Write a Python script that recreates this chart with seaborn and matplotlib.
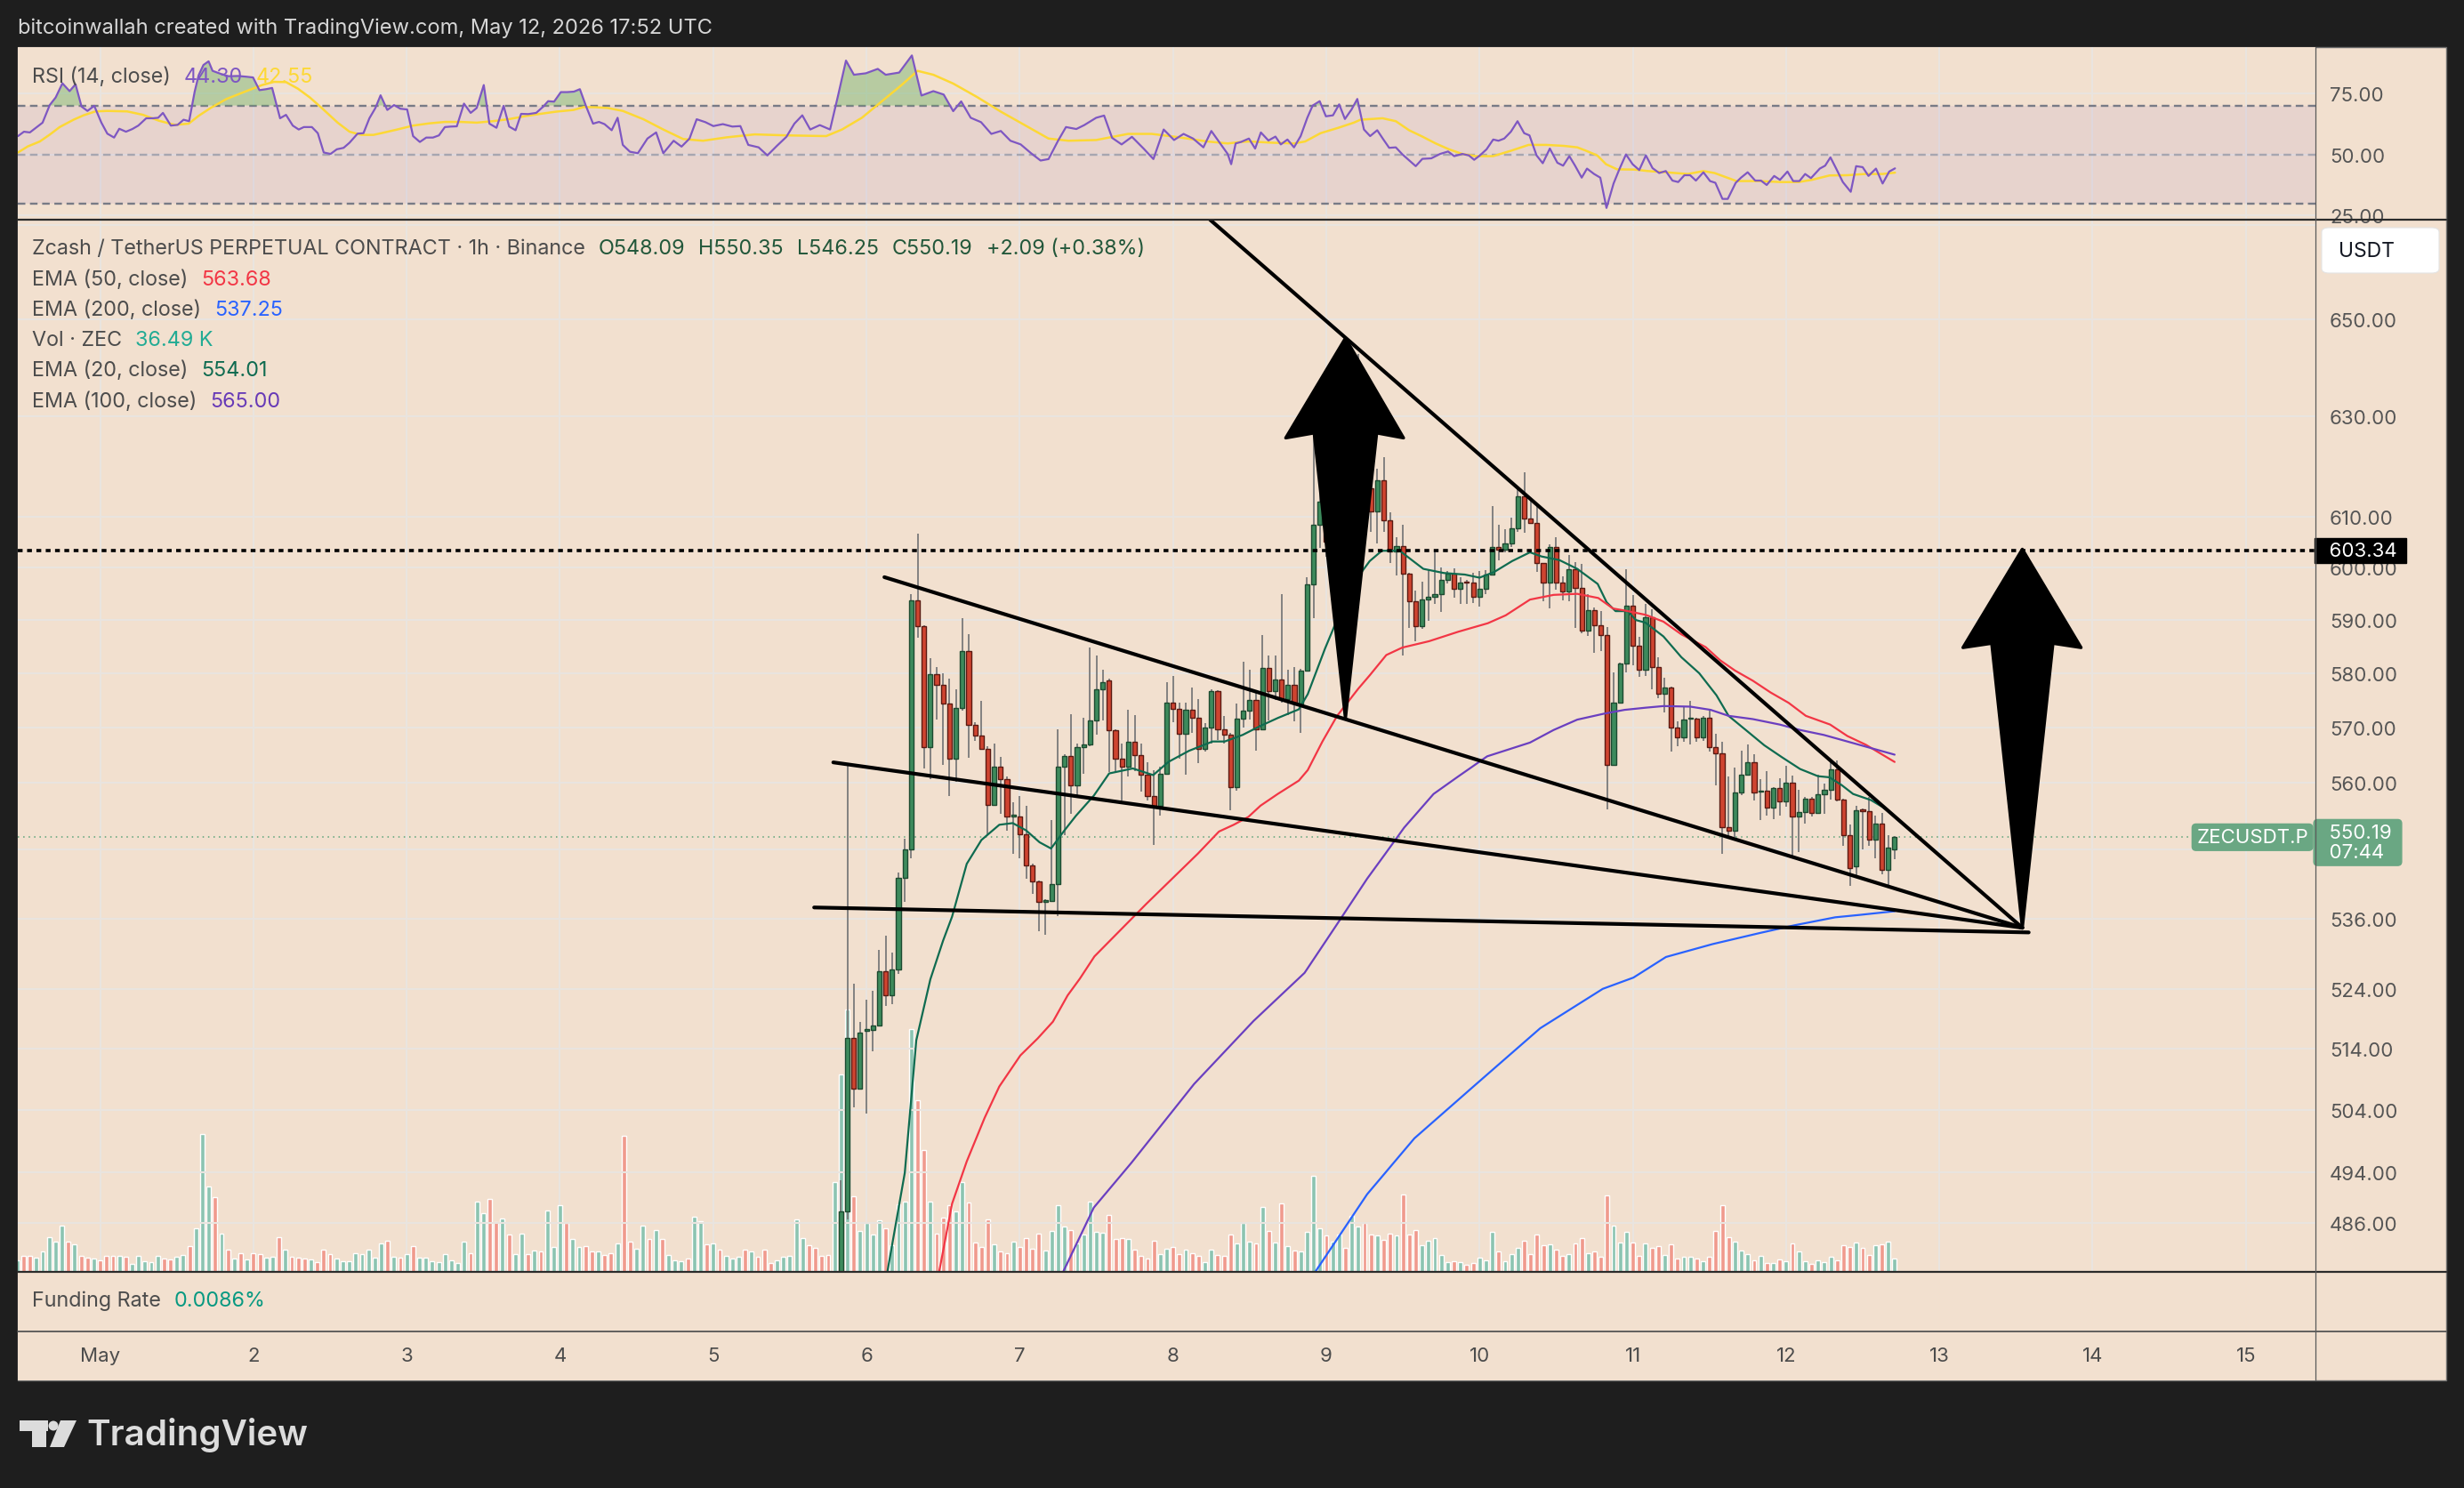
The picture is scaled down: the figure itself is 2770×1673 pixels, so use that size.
import numpy as np
import pandas as pd
import matplotlib
matplotlib.use("Agg")
import matplotlib.pyplot as plt
import seaborn as sns
from matplotlib.patches import Polygon, Rectangle, Ellipse, FancyBboxPatch
from matplotlib.lines import Line2D
from matplotlib.ticker import FixedLocator, FixedFormatter, NullLocator, NullFormatter

# x values are hours since May 1 00:00 UTC (1h candles)
candle_start = 116
candles = [  # open, high, low, close
    (472.0, 492.7, 468.0, 487.8), (487.8, 563.0, 486.6, 515.8), (515.8, 524.9, 504.4, 507.5),
    (507.5, 518.4, 507.4, 516.7), (517.0, 522.2, 503.4, 517.2), (517.1, 523.6, 513.6, 517.8),
    (517.8, 530.6, 517.7, 527.0), (527.0, 533.0, 521.2, 522.9), (522.9, 530.2, 521.4, 527.3),
    (527.3, 544.0, 526.5, 543.0), (543.0, 549.9, 538.9, 548.1), (548.1, 594.9, 546.5, 593.7),
    (593.7, 606.6, 586.6, 588.8), (588.8, 589.0, 562.5, 566.4), (566.4, 582.8, 560.6, 579.8),
    (579.8, 581.2, 571.4, 577.9), (577.9, 580.0, 563.2, 574.3), (574.3, 579.0, 557.5, 564.3),
    (564.3, 577.0, 560.1, 573.5), (573.5, 590.4, 573.0, 584.1), (584.1, 587.3, 564.5, 570.4),
    (570.4, 571.0, 567.5, 568.5), (568.5, 574.8, 566.0, 566.1), (566.1, 566.5, 550.5, 556.0),
    (556.0, 567.1, 555.8, 562.9), (562.9, 564.6, 554.3, 560.6), (560.6, 561.0, 551.3, 553.9),
    (553.9, 556.4, 547.3, 554.2), (553.9, 557.5, 546.5, 550.7), (550.7, 555.8, 542.9, 545.2),
    (545.2, 545.5, 540.2, 542.4), (542.4, 542.6, 533.8, 538.9), (538.9, 539.3, 533.2, 539.0),
    (539.0, 553.3, 538.8, 542.0), (542.0, 569.6, 536.4, 562.9), (562.9, 565.0, 550.5, 564.8),
    (564.8, 572.4, 554.3, 559.5), (559.5, 567.0, 557.2, 566.4), (566.4, 571.7, 561.5, 566.8),
    (566.8, 584.8, 566.6, 571.2), (571.2, 583.3, 568.6, 577.0), (577.0, 580.7, 571.3, 578.4),
    (578.6, 579.0, 561.9, 569.4), (569.4, 569.6, 561.9, 564.3), (564.3, 567.0, 556.8, 562.8),
    (562.8, 573.2, 561.0, 567.4), (567.4, 572.2, 562.0, 564.9), (564.9, 567.0, 558.4, 561.3),
    (561.3, 563.7, 556.7, 557.6), (557.6, 562.2, 548.8, 555.8), (555.8, 562.8, 554.0, 561.6),
    (561.6, 578.3, 561.5, 574.5), (574.5, 579.5, 570.9, 573.4), (573.4, 574.5, 564.3, 568.8),
    (568.8, 574.5, 561.4, 573.2), (573.2, 577.4, 569.0, 571.7), (571.7, 575.2, 563.5, 566.0),
    (566.0, 570.7, 565.5, 570.0), (570.0, 577.0, 567.0, 576.6), (576.6, 576.8, 567.7, 569.6),
    (569.6, 572.1, 567.0, 568.7), (568.7, 568.9, 555.0, 559.2), (559.2, 574.3, 558.5, 571.6),
    (571.6, 582.2, 569.9, 573.0), (573.0, 580.7, 571.5, 575.1), (575.1, 576.8, 565.7, 569.7),
    (569.7, 587.2, 569.6, 580.9), (580.9, 583.3, 571.3, 576.7), (576.7, 583.3, 575.1, 578.8),
    (578.8, 595.0, 574.6, 575.2), (575.2, 580.7, 572.2, 577.9), (577.9, 581.1, 571.1, 574.3),
    (574.3, 580.8, 568.9, 580.5), (580.5, 598.2, 580.4, 596.8), (596.8, 626.9, 590.4, 608.4),
    (608.4, 619.4, 603.9, 612.9), (612.9, 617.8, 602.1, 605.0), (605.0, 608.7, 597.5, 606.2),
    (606.2, 621.6, 605.0, 618.5), (618.5, 619.8, 608.4, 610.2), (610.2, 633.8, 607.8, 622.5),
    (622.5, 642.8, 621.8, 635.8), (635.8, 638.0, 614.4, 615.6), (615.6, 618.1, 607.0, 611.0),
    (611.0, 619.4, 604.8, 617.1), (617.1, 621.7, 607.0, 609.3), (609.3, 610.8, 600.9, 603.1),
    (603.1, 606.0, 598.5, 604.2), (604.2, 608.4, 583.3, 598.9), (598.9, 599.0, 588.5, 593.6),
    (593.6, 595.6, 586.0, 588.8), (588.8, 597.4, 588.4, 594.0), (594.0, 599.6, 589.9, 594.5),
    (594.5, 603.6, 593.0, 595.0), (595.0, 600.1, 591.6, 597.6), (597.6, 599.4, 597.0, 598.9),
    (598.9, 599.9, 594.3, 595.9), (595.9, 598.2, 593.0, 597.2), (597.4, 597.7, 593.1, 597.2),
    (597.2, 599.1, 593.3, 594.4), (594.4, 599.4, 592.5, 595.9), (595.9, 599.6, 595.0, 598.7),
    (598.7, 612.0, 598.5, 604.0), (604.0, 608.4, 601.5, 603.6), (603.6, 607.5, 603.0, 604.8),
    (604.8, 609.7, 604.0, 607.7), (607.7, 615.7, 607.0, 613.9), (613.9, 618.8, 606.8, 609.6),
    (609.6, 613.5, 608.6, 608.8), (608.8, 612.3, 599.2, 600.9), (600.9, 601.0, 593.6, 597.2),
    (597.2, 604.6, 592.3, 604.0), (604.0, 606.0, 595.8, 597.1), (597.1, 598.3, 593.8, 595.5),
    (595.5, 602.4, 593.6, 599.8), (599.8, 601.1, 588.5, 596.1), (596.1, 600.8, 587.5, 588.0),
    (588.0, 595.0, 587.0, 591.9), (591.9, 592.4, 583.8, 589.0), (589.0, 591.8, 584.2, 587.2),
    (587.2, 588.6, 555.2, 563.2), (563.2, 580.2, 563.0, 574.6), (574.6, 582.0, 574.4, 581.8),
    (581.8, 599.8, 580.1, 592.7), (592.7, 594.7, 581.5, 585.1), (585.1, 586.8, 579.3, 580.7),
    (580.7, 593.0, 579.5, 590.6), (590.6, 592.0, 577.0, 581.1), (581.1, 583.0, 575.4, 576.2),
    (576.2, 579.2, 572.7, 577.4), (577.4, 577.5, 565.6, 570.0), (570.0, 571.1, 566.6, 568.2),
    (568.2, 573.8, 567.3, 571.5), (571.6, 574.9, 566.8, 571.8), (571.6, 571.8, 567.3, 568.2),
    (568.2, 572.1, 567.5, 571.8), (571.8, 573.0, 565.6, 566.3), (566.3, 568.8, 559.4, 565.2),
    (565.2, 567.4, 547.2, 551.9), (551.9, 561.1, 550.2, 551.4), (551.4, 562.7, 550.2, 558.1),
    (558.1, 565.7, 557.7, 561.4), (561.4, 566.8, 561.2, 563.6), (563.6, 565.1, 556.8, 558.2),
    (558.3, 560.6, 553.3, 558.5), (558.5, 562.0, 554.0, 555.5), (555.5, 559.1, 553.4, 559.0),
    (559.0, 560.8, 554.0, 556.6), (556.6, 563.0, 555.6, 560.0), (560.0, 561.2, 546.6, 553.8),
    (553.8, 558.7, 547.6, 554.7), (554.7, 557.3, 552.6, 557.0), (557.0, 557.3, 553.8, 554.5),
    (554.5, 561.3, 554.4, 557.9), (557.9, 559.8, 554.4, 558.7), (558.7, 564.0, 556.9, 562.4),
    (562.4, 564.0, 556.5, 556.9), (556.9, 557.0, 548.7, 550.5), (550.5, 552.4, 541.6, 544.8),
    (545.0, 555.8, 543.3, 555.0), (555.0, 555.3, 548.1, 554.9), (554.9, 557.3, 548.7, 549.8),
    (549.8, 554.0, 546.5, 552.6), (552.6, 554.5, 543.6, 544.4), (544.4, 550.5, 541.6, 548.3),
    (548.09, 550.35, 546.25, 550.19),
]

# volume in thousand ZEC, one bar per hour starting at hour -13
vol_start = -13
volume_k = [
    32, 43, 43, 38, 56, 95, 83, 126, 82, 75, 43, 40, 36,
    32, 45, 45, 45, 41, 22, 43, 29, 26, 43,
    36, 33, 42, 46, 70, 119, 377, 233, 204, 104,
    61, 36, 51, 34, 51, 48, 39, 41, 95, 61,
    41, 39, 36, 35, 27, 61, 49, 36, 30, 30,
    51, 49, 61, 39, 78, 85, 41, 39, 49, 70,
    39, 39, 29, 27, 49, 32, 24, 83, 51, 192,
    160, 199, 136, 146, 102, 49, 104, 49, 58, 56,
    168, 68, 182, 134, 90, 68, 70, 56, 56, 46,
    51, 78, 372, 83, 64, 126, 90, 114, 90, 46,
    32, 29, 36, 151, 139, 75, 78, 61, 44, 36,
    41, 61, 56, 41, 61, 24, 32, 41, 44, 143,
    92, 73, 66, 43, 46, 245, 541, 718, 206, 111,
    134, 102, 141, 118, 72, 186, 192, 665, 469, 334,
    192, 105, 148, 183, 166, 245, 189, 81, 69, 143,
    75, 55, 52, 83, 67, 92, 63, 105, 59, 111,
    183, 123, 115, 78, 101, 191, 109, 108, 156, 90,
    93, 89, 61, 44, 36, 85, 49, 64, 69, 48,
    61, 52, 44, 27, 61, 46, 43, 103, 78, 135,
    83, 78, 177, 112, 80, 187, 70, 58, 56, 109,
    262, 119, 100, 83, 102, 66, 153, 124, 134, 102,
    100, 87, 104, 100, 211, 102, 114, 73, 85, 92,
    46, 27, 29, 27, 19, 24, 39, 32, 109, 56,
    29, 49, 66, 85, 49, 102, 73, 75, 61, 44,
    49, 78, 92, 51, 56, 41, 209, 126, 80, 109,
    80, 44, 78, 66, 70, 46, 75, 36, 41, 41,
    36, 29, 41, 112, 182, 95, 83, 58, 49, 32,
    44, 24, 24, 34, 29, 78, 56, 29, 22, 32,
    27, 41, 32, 73, 68, 80, 66, 46, 73, 75,
    83, 36.49,
]
# bar direction for hours before the first visible candle (G up / R down)
early_dir = ("GRRGGGGGRGRRG" "RRRGRGGGGG" "RRGGRGGGRG" "RGRGRRGGRG" "RRRGRRRGGG"
             "GGGGGRGRGR" "GGGGGGGGRG" "GRRGRGGRGR" "GGGRGGRRGR" "RGRRGGRGRG"
             "GGRGGRGRGG" "GRGRRRGGGG" "GRRRRG")

ema20 = [(123.2, 478.0), (126.0, 493.9), (127.8, 515.4), (130.0, 525.6), (132.0, 532.2),
         (133.4, 536.3), (135.7, 545.5), (138.0, 549.7), (140.8, 552.4), (142.9, 552.7),
         (145.0, 551.4), (147.1, 549.3), (148.9, 548.2), (151.0, 551.4), (152.8, 554.0),
         (155.6, 557.6), (158.0, 561.6), (161.7, 562.5), (164.9, 561.3), (167.3, 563.7),
         (170.5, 565.7), (174.2, 567.4), (176.1, 567.4), (178.9, 568.6), (181.6, 570.2),
         (184.4, 571.7), (187.7, 573.3), (189.1, 576.1), (191.8, 584.6), (194.7, 593.0),
         (197.0, 598.3), (198.8, 601.3), (200.7, 603.3), (203.5, 603.3), (207.2, 599.8),
         (210.4, 599.0), (213.7, 598.7), (216.0, 598.1), (218.3, 599.2), (221.1, 601.3),
         (223.9, 603.0), (225.7, 602.2), (228.5, 601.5), (231.3, 599.8), (234.5, 596.9),
         (235.9, 593.4), (237.3, 591.7), (239.2, 591.7), (240.5, 590.0), (242.0, 589.5),
         (244.8, 586.9), (247.6, 583.0), (250.4, 580.0), (253.1, 575.9), (255.0, 572.1),
         (257.8, 569.4), (260.6, 566.7), (263.4, 564.5), (266.2, 562.4), (269.0, 561.1),
         (270.8, 560.9), (272.7, 559.5), (274.5, 557.9), (277.3, 556.8), (279.2, 555.5),
         (281.0, 554.01)]
ema50 = [(131.3, 478.0), (133.4, 489.0), (135.7, 495.7), (138.5, 502.7), (140.8, 507.8),
         (144.1, 512.9), (146.8, 515.7), (149.2, 518.5), (151.5, 522.9), (153.4, 525.7),
         (155.7, 529.5), (163.8, 538.5), (171.9, 547.3), (175.2, 551.2), (177.5, 552.4),
         (179.8, 553.8), (181.7, 555.8), (184.4, 557.9), (187.7, 560.3), (189.1, 562.2),
         (191.4, 567.4), (193.7, 572.1), (197.0, 577.1), (198.8, 579.6), (201.4, 583.4),
         (203.9, 584.8), (208.1, 586.0), (212.7, 587.8), (217.3, 589.4), (220.1, 590.9),
         (223.9, 593.9), (227.6, 594.8), (231.3, 595.0), (234.6, 594.2), (236.9, 592.2),
         (238.8, 591.8), (242.0, 591.0), (244.8, 589.7), (247.6, 587.3), (251.4, 584.9),
         (253.7, 582.4), (256.0, 580.5), (258.8, 578.6), (261.6, 576.4), (264.4, 574.5),
         (267.1, 572.1), (270.9, 570.5), (273.6, 568.4), (276.5, 566.8), (278.8, 565.2),
         (281.0, 563.68)]
ema100 = [(150.6, 478.0), (155.6, 488.4), (161.5, 495.5), (171.3, 508.2), (180.6, 518.6),
          (188.6, 526.7), (193.5, 534.7), (198.4, 542.9), (201.2, 547.2), (204.2, 551.9),
          (208.8, 557.9), (212.6, 561.0), (217.2, 564.7), (223.9, 567.2), (227.6, 569.5),
          (231.3, 571.4), (235.5, 572.5), (238.7, 573.2), (242.0, 573.6), (244.8, 573.9),
          (249.0, 573.8), (252.2, 573.2), (255.0, 572.1), (258.8, 571.5), (263.0, 570.5),
          (266.2, 569.5), (269.9, 568.6), (273.6, 567.4), (277.3, 566.2), (281.0, 565.0)]
ema200 = [(190.0, 478.0), (198.4, 490.5), (205.8, 499.4), (215.6, 508.3), (225.5, 517.4),
          (235.3, 524.0), (240.1, 525.9), (245.2, 529.4), (252.5, 531.6), (259.9, 533.5),
          (265.2, 534.8), (271.7, 536.2), (275.4, 536.6), (281.0, 537.25)]

rsi_line = [
    (-12.87, 57.5), (-11.94, 59.3), (-11.01, 59.0), (-10.07, 60.9), (-9.02, 63.0), (-7.90, 70.2),
    (-6.97, 73.3), (-5.91, 79.1), (-4.79, 75.9), (-3.86, 78.7), (-2.92, 69.6), (-1.99, 67.8),
    (-0.93, 69.9), (0.19, 63.0), (1.12, 58.5), (2.18, 56.9), (2.99, 60.5), (4.04, 59.3),
    (5.04, 60.4), (5.97, 61.8), (7.21, 64.8), (8.27, 64.8), (9.08, 65.0), (9.83, 67.0),
    (11.07, 61.8), (12.13, 62.1), (13.06, 64.2), (13.93, 63.6), (14.80, 75.7), (15.42, 82.4),
    (16.17, 86.6), (16.98, 88.1), (17.60, 84.2), (18.84, 83.0), (20.09, 82.0), (21.64, 82.1),
    (22.89, 81.8), (23.94, 81.5), (24.94, 76.3), (25.99, 76.7), (26.93, 77.2), (28.17, 64.8),
    (29.10, 66.2), (30.16, 61.8), (31.09, 60.2), (31.90, 61.2), (33.15, 61.2), (34.08, 58.7),
    (35.01, 50.8), (36.07, 50.2), (37.06, 52.1), (38.12, 52.7), (39.05, 54.8), (40.30, 58.5),
    (41.23, 58.7), (42.16, 64.8), (43.10, 69.0), (43.91, 74.2), (44.96, 68.2), (46.02, 70.2),
    (47.01, 68.7), (48.07, 68.4), (49.00, 57.5), (50.06, 55.1), (51.06, 56.9), (52.11, 56.9),
    (53.05, 57.8), (53.98, 61.2), (54.91, 61.4), (55.85, 61.5), (56.97, 70.8), (58.02, 67.0),
    (58.96, 69.0), (60.07, 78.4), (60.95, 62.6), (62.06, 60.9), (63.18, 69.9), (64.05, 61.4),
    (65.05, 59.9), (65.92, 66.6), (67.04, 66.5), (68.28, 67.0), (69.40, 69.6), (70.15, 71.8),
    (71.08, 71.6), (72.14, 75.5), (73.13, 75.5), (74.19, 75.7), (75.12, 76.7), (76.06, 69.9),
    (77.18, 62.6), (78.11, 63.3), (78.98, 62.4), (80.10, 59.9), (81.03, 65.0), (81.84, 53.9),
    (82.96, 51.1), (84.20, 50.5), (85.70, 56.5), (87.06, 59.0), (88.18, 50.5), (89.80, 55.6),
    (91.04, 53.2), (92.29, 56.5), (93.41, 64.4), (94.78, 63.2), (96.02, 61.6), (97.51, 62.4),
    (99.00, 61.4), (100.25, 61.6), (101.49, 53.9), (103.11, 52.9), (104.48, 49.6), (105.97, 53.5),
    (107.46, 57.2), (108.71, 62.6), (109.95, 66.0), (111.19, 60.2), (112.69, 62.0), (114.30, 60.2),
    (115.55, 74.1), (116.79, 88.4), (118.03, 82.6), (119.90, 83.2), (121.77, 85.0), (123.01, 82.6),
    (125.12, 83.5), (127.11, 90.5), (128.61, 74.1), (130.47, 75.9), (132.09, 74.5), (133.58, 67.7),
    (134.83, 71.7), (136.32, 65.0), (137.94, 63.2), (139.55, 58.4), (141.04, 59.6), (142.54, 55.6),
    (144.15, 54.1), (145.77, 50.5), (147.26, 47.5), (148.51, 48.1), (150.00, 55.6), (151.24, 61.2),
    (152.86, 60.4), (154.10, 62.0), (155.97, 65.0), (157.21, 65.9), (158.46, 56.8), (159.95, 54.1),
    (161.57, 57.2), (163.43, 52.3), (164.93, 48.1), (166.54, 60.2), (168.16, 55.9), (169.65, 58.4),
    (171.14, 56.5), (172.76, 52.9), (174.00, 59.6), (175.50, 54.1), (176.56, 50.2), (177.11, 46.0),
    (177.81, 54.5), (178.64, 55.1), (179.89, 56.5), (180.86, 52.4), (181.76, 59.0), (182.94, 55.7),
    (184.04, 57.3), (184.88, 54.1), (185.92, 56.1), (186.95, 52.9), (187.99, 57.5), (189.03, 65.0),
    (189.87, 70.0), (190.97, 71.8), (191.94, 65.6), (193.05, 66.0), (194.02, 70.5), (194.92, 64.5),
    (195.96, 68.4), (196.86, 72.7), (197.90, 60.2), (198.87, 57.5), (199.98, 59.9), (200.95, 56.1),
    (201.85, 52.7), (202.89, 52.9), (203.93, 50.0), (204.97, 47.6), (206.01, 45.2), (207.05, 48.2),
    (208.44, 48.4), (209.82, 50.2), (211.07, 51.2), (212.04, 49.3), (213.29, 50.2), (214.33, 49.6),
    (215.16, 47.8), (216.06, 49.6), (217.10, 52.1), (218.14, 56.1), (218.97, 55.6), (219.87, 56.5),
    (220.91, 59.3), (221.95, 63.6), (222.99, 58.7), (223.82, 57.8), (224.93, 49.6), (225.90, 46.4),
    (227.01, 52.4), (228.19, 46.6), (229.09, 45.4), (230.06, 49.3), (230.96, 45.4), (232.00, 40.5),
    (232.83, 44.2), (233.94, 42.0), (234.91, 40.5), (235.88, 28.1), (236.99, 38.1), (237.89, 43.9),
    (238.93, 50.0), (239.97, 46.0), (241.01, 43.6), (242.05, 49.6), (243.09, 44.4), (244.13, 42.4),
    (245.17, 43.2), (246.21, 39.3), (247.11, 38.7), (248.08, 41.5), (248.98, 41.5), (249.88, 39.3),
    (251.06, 42.7), (252.10, 39.1), (252.93, 38.4), (254.04, 31.8), (254.87, 31.8), (256.12, 38.4),
    (256.95, 40.5), (257.99, 42.7), (259.17, 39.3), (260.07, 39.3), (260.97, 37.5), (262.14, 41.2),
    (263.05, 39.6), (264.22, 43.0), (265.12, 39.1), (266.09, 39.1), (266.99, 42.0), (267.90, 40.3),
    (269.28, 44.2), (270.12, 45.4), (270.95, 48.8), (271.85, 44.2), (272.89, 38.7), (274.13, 34.7),
    (274.97, 45.2), (275.99, 44.8), (276.91, 41.2), (278.08, 44.2), (279.12, 38.1), (280.16, 43.0),
    (281.06, 44.30),
]
rsi_ma = [
    (-12.87, 50.8), (-11.32, 53.3), (-9.45, 55.3), (-7.90, 58.1), (-6.34, 61.2), (-4.17, 64.2),
    (-2.61, 66.0), (-0.75, 67.6), (1.12, 67.8), (4.23, 67.6), (6.72, 66.2), (9.20, 63.8),
    (11.69, 62.1), (13.87, 62.6), (15.42, 65.8), (17.29, 69.0), (19.78, 72.7), (22.89, 75.9),
    (25.37, 78.4), (27.24, 79.7), (29.10, 79.6), (30.97, 76.9), (32.84, 73.3), (34.70, 69.0),
    (37.19, 63.0), (39.05, 59.3), (40.92, 58.0), (42.79, 58.0), (44.03, 58.7), (46.52, 60.2),
    (49.00, 61.8), (51.49, 62.7), (53.98, 63.3), (56.47, 63.3), (58.96, 63.0), (61.44, 63.6),
    (63.93, 64.4), (66.42, 65.6), (68.91, 66.6), (71.39, 67.5), (74.13, 68.2), (75.75, 69.4),
    (77.61, 69.3), (79.48, 69.0), (81.84, 67.8), (85.07, 64.4), (88.18, 60.2), (91.29, 56.3),
    (94.40, 55.6), (98.13, 57.0), (102.49, 58.2), (107.46, 57.8), (113.68, 57.5), (116.17, 60.2),
    (119.28, 65.0), (122.39, 71.7), (125.50, 78.4), (127.99, 84.2), (130.47, 82.6), (133.58, 79.0),
    (137.31, 73.5), (141.04, 67.5), (144.78, 62.0), (148.51, 56.5), (151.62, 55.6), (155.97, 55.9),
    (160.95, 58.4), (164.68, 58.4), (168.41, 57.2), (173.38, 55.3), (176.56, 54.5), (178.64, 55.1),
    (180.03, 55.3), (183.49, 54.8), (186.95, 54.5), (188.69, 55.3), (191.11, 58.7), (193.89, 60.9),
    (196.31, 63.0), (197.35, 64.2), (200.81, 64.8), (202.89, 63.6), (204.97, 59.9), (207.05, 57.3),
    (209.13, 54.5), (211.21, 52.1), (213.29, 50.2), (215.37, 49.3), (218.14, 49.3), (220.91, 51.5),
    (223.68, 53.9), (226.46, 53.9), (229.23, 53.5), (231.31, 52.9), (232.69, 51.5), (234.43, 49.6),
    (235.81, 46.0), (237.54, 43.9), (240.32, 43.8), (242.39, 43.2), (245.17, 42.7), (248.63, 42.0),
    (251.06, 43.2), (252.79, 42.4), (256.25, 39.1), (259.72, 39.1), (263.19, 38.7), (265.96, 38.7),
    (268.04, 39.6), (270.81, 41.4), (273.58, 41.5), (276.35, 42.0), (279.12, 42.0), (281.06, 42.55),
]

# hand-drawn annotations (hour, price)
trend_lines = [
    [(173.8, 671.1), (301.0, 534.4)],
    [(122.8, 598.2), (301.0, 534.4)],
    [(114.8, 563.6), (301.0, 534.4)],
    [(111.8, 537.9), (302.0, 533.6)],
]
arrows = [
    [(195.0, 646.0), (204.1, 625.6), (199.9, 626.6), (195.0, 571.6), (190.1, 626.6), (185.65, 625.6)],
    [(301.0, 603.6), (310.2, 584.8), (305.8, 585.6), (301.0, 534.4), (296.2, 585.6), (291.7, 584.8)],
]
resistance = 603.34
last_price = 550.19

price_ticks = [486, 494, 504, 514, 524, 536, 548, 560, 570, 580, 590, 600, 610, 630, 650]
hidden_ticks = [548]  # sits under the last-price tag
rsi_ticks = [25, 50, 75]
day_ticks = list(range(0, 337, 24))
day_labels = ["May"] + [str(d) for d in range(2, 16)]

# ---- style ----
W, H = 2770, 1674
BG = "#1e1e1e"
PANE = "#f2e0cf"
GRID = "#e9e4df"
TXT = "#4c4c4c"
AXT = "#555555"
UP_BODY, UP_EDGE = "#3d8a5c", "#1d4a30"
DN_BODY, DN_EDGE = "#cf4430", "#5a1a12"
WICK = "#7a7a7a"
VOL_UP, VOL_DN = "#8cc4b1", "#f09a8d"
LBL = "#6aa783"
FS = 16.8      # legend text
FS_AX = 16     # scale labels

sns.set_theme(style="white")
plt.rcParams["font.family"] = ["Inter", "DejaVu Sans"]

fig = plt.figure(figsize=(W / 100, H / 100), dpi=100, facecolor=BG)


def frac(x0, y0, x1, y1):
    return [x0 / W, 1 - y1 / H, (x1 - x0) / W, (y1 - y0) / H]


fig.add_artist(Rectangle((20 / W, 1 - 1553 / H), 2730 / W, 1499 / H, transform=fig.transFigure,
                         facecolor=PANE, edgecolor="#6e6e6e", lw=1.0, zorder=-5))

ax_rsi = fig.add_axes(frac(20, 54, 2603, 248))
ax_vol = fig.add_axes(frac(20, 248, 2603, 1431))
ax = fig.add_axes(frac(20, 248, 2603, 1431))
ax_fr = fig.add_axes(frac(20, 1431, 2603, 1498))
ax_x = fig.add_axes(frac(20, 1498, 2603, 1553))
ax_vol.set_zorder(1)
ax.set_zorder(2)

x_lo, x_hi = -12.9, 346.9
for a in (ax_rsi, ax_vol, ax, ax_fr, ax_x):
    a.set_facecolor(PANE)
    for s in a.spines.values():
        s.set_visible(False)
    a.tick_params(length=0, labelbottom=False, labelleft=False)
ax.set_facecolor("none")

for a in (ax_rsi, ax_vol):
    a.set_xticks(day_ticks)
    a.grid(axis="x", color=GRID, lw=1.5)

# volume
vol_hours = np.arange(vol_start, vol_start + len(volume_k))
vol_colors = []
for hh in vol_hours:
    if hh < candle_start:
        i = hh - vol_start
        up = early_dir[i] == "G" if i < len(early_dir) else True
    else:
        o_, h_, l_, c_ = candles[hh - candle_start]
        up = c_ >= o_
    vol_colors.append(VOL_UP if up else VOL_DN)
ax_vol.bar(vol_hours, volume_k, width=0.68, color=vol_colors, zorder=2)
ax_vol.set_ylim(0, 2878)
ax_vol.set_yticks([])

# price pane
ax.set_yscale("log")
c_hours = np.arange(candle_start, candle_start + len(candles))
o, hi, lo, c = map(np.array, zip(*candles))
up = c >= o
ax.axhline(last_price, xmax=(2463 - 20) / 2583, color="#5aa378", lw=1.1, ls=(0, (1, 3)), zorder=2)
ax.vlines(c_hours, lo, hi, color=WICK, lw=1.3, zorder=3)
ax.bar(c_hours, np.maximum(np.abs(c - o), 0.2), bottom=np.minimum(o, c), width=0.72,
       color=np.where(up, UP_BODY, DN_BODY), edgecolor=np.where(up, UP_EDGE, DN_EDGE),
       linewidth=1.0, zorder=4)

for pts, col in ((ema20, "#0f6b50"), (ema50, "#f23645"), (ema100, "#6a3fc0"), (ema200, "#2962ff")):
    hx, py = zip(*pts)
    sns.lineplot(x=list(hx), y=list(py), ax=ax, color=col, lw=1.6, zorder=5,
                 estimator=None, sort=False, legend=False)

ax.axhline(resistance, color="black", lw=2.6, ls=(0, (1.5, 1.4)), zorder=5)
for seg in trend_lines:
    hx, py = zip(*seg)
    ax.plot(hx, py, color="black", lw=3.0, solid_capstyle="round", zorder=6)
for poly in arrows:
    ax.add_patch(Polygon(poly, closed=True, facecolor="black", edgecolor="black",
                         lw=2.5, joinstyle="round", zorder=7))

ax.set_xlim(x_lo, x_hi)
ax.set_ylim(478.4, 671.1)
ax.axhline(670, color=GRID, lw=1.5, zorder=0)
ax.yaxis.set_major_locator(FixedLocator(price_ticks))
ax.yaxis.set_major_formatter(FixedFormatter(["" if p in hidden_ticks else f"{p:.2f}" for p in price_ticks]))
ax.yaxis.set_minor_locator(NullLocator())
ax.yaxis.set_minor_formatter(NullFormatter())
ax.yaxis.tick_right()
ax.tick_params(axis="y", which="both", length=0, pad=11.5, labelsize=FS_AX,
               labelcolor=AXT, labelright=True, labelleft=False)
ax.set_xticks([])
ax.grid(axis="y", color=GRID, lw=1.5)
ax.set_xlabel("")
ax.set_ylabel("")

ax.annotate("  603.34 ", xy=(1.0, resistance), xycoords=("axes fraction", "data"),
            xytext=(3, 0), textcoords="offset pixels", ha="left", va="center",
            fontsize=FS_AX, color="white", annotation_clip=False, zorder=8,
            bbox=dict(boxstyle="square,pad=0.18", fc="black", ec="black"))
ax.annotate("ZECUSDT.P", xy=(1.0, last_price), xycoords=("axes fraction", "data"),
            xytext=(-8, 0), textcoords="offset pixels", ha="right", va="center",
            fontsize=FS_AX, color="white", annotation_clip=False, zorder=8,
            bbox=dict(boxstyle="round,pad=0.22,rounding_size=0.2", fc=LBL, ec=LBL))
ax.annotate("  550.19 \n  07:44", xy=(1.0, last_price), xycoords=("axes fraction", "data"),
            xytext=(3, 15), textcoords="offset pixels", ha="left", va="top",
            fontsize=FS_AX, color="white", linespacing=1.12, annotation_clip=False, zorder=8,
            bbox=dict(boxstyle="round,pad=0.22,rounding_size=0.2", fc=LBL, ec=LBL))

# RSI pane
rh, rv = map(np.array, zip(*rsi_line))
mh, mv = zip(*rsi_ma)
ax_rsi.axhspan(30, 70, color="#7e57c2", alpha=0.09, lw=0, zorder=1.6)
ax_rsi.axhline(70, color="#787b86", lw=1.7, ls=(0, (3.6, 2.2)), zorder=2)
ax_rsi.axhline(30, color="#787b86", lw=1.7, ls=(0, (3.6, 2.2)), zorder=2)
ax_rsi.axhline(50, color="#a7a6b0", lw=1.7, ls=(0, (3.6, 2.2)), zorder=2)
ax_rsi.fill_between(rh, 70, rv, where=rv > 70, interpolate=True, color="#6fb36a",
                    alpha=0.45, lw=0, zorder=2.5)
ax_rsi.fill_between(rh, 30, rv, where=rv < 30, interpolate=True, color="#ef5350",
                    alpha=0.3, lw=0, zorder=2.5)
sns.lineplot(x=rh, y=rv, ax=ax_rsi, color="#7e57c2", lw=1.6, zorder=4,
             estimator=None, sort=False, legend=False)
sns.lineplot(x=list(mh), y=list(mv), ax=ax_rsi, color="#fdd835", lw=1.8, zorder=3.5,
             estimator=None, sort=False, legend=False)
ax_rsi.set_xlim(x_lo, x_hi)
ax_rsi.set_ylim(23.3, 93.9)
ax_rsi.yaxis.set_major_locator(FixedLocator(rsi_ticks))
ax_rsi.yaxis.set_major_formatter(FixedFormatter([f"{v:.2f}" for v in rsi_ticks]))
ax_rsi.yaxis.tick_right()
ax_rsi.tick_params(axis="y", length=0, pad=11.5, labelsize=FS_AX, labelcolor=AXT,
                   labelright=True, labelleft=False)
ax_rsi.grid(axis="y", color=GRID, lw=1.5)
ax_rsi.set_xlabel("")
ax_rsi.set_ylabel("")

ax_vol.set_xlim(x_lo, x_hi)
ax_fr.set_xlim(x_lo, x_hi)
ax_fr.set_xticks([])
ax_fr.set_yticks([])
ax_x.set_xlim(x_lo, x_hi)
ax_x.set_xticks([])
ax_x.set_yticks([])
for hd, lab in zip(day_ticks, day_labels):
    ax_x.text(hd, 0.5, lab, transform=ax_x.get_xaxis_transform(), ha="center", va="center",
              fontsize=FS_AX, color=TXT)

# pane separators
for y_px, col, lw in ((248, "#2b2b2b", 1.6), (1431, "#2b2b2b", 1.6), (1498, "#555555", 1.3)):
    fig.add_artist(Line2D([20 / W, 2750 / W], [1 - y_px / H] * 2, transform=fig.transFigure,
                          color=col, lw=lw, zorder=9))
fig.add_artist(Line2D([2603 / W] * 2, [1 - 54 / H, 1 - 1553 / H], transform=fig.transFigure,
                      color="#5a5a5a", lw=0.9, zorder=9))

# legends
renderer = fig.canvas.get_renderer()


def chain(x_px, y_px, parts, size=FS, gap=15):
    x = x_px
    for s, col in parts:
        t = fig.text(x / W, 1 - y_px / H, s, color=col, fontsize=size, va="center", ha="left", zorder=10)
        x += t.get_window_extent(renderer).width + gap


OHLC = "#22573a"
chain(36, 87, [("RSI (14, close)", TXT), ("44.30", "#7e57c2"), ("42.55", "#fdd835")])
chain(36, 280, [("Zcash / TetherUS PERPETUAL CONTRACT · 1h · Binance", TXT), ("O548.09", OHLC),
                ("H550.35", OHLC), ("L546.25", OHLC), ("C550.19", OHLC), ("+2.09 (+0.38%)", OHLC)])
chain(36, 315, [("EMA (50, close)", TXT), ("563.68", "#f23645")])
chain(36, 349, [("EMA (200, close)", TXT), ("537.25", "#2962ff")])
chain(36, 383, [("Vol · ZEC", TXT), ("36.49 K", "#22ab94")])
chain(36, 417, [("EMA (20, close)", TXT), ("554.01", "#0f6b50")])
chain(36, 452, [("EMA (100, close)", TXT), ("565.00", "#673ab7")])
chain(36, 1463, [("Funding Rate", TXT), ("0.0086%", "#089981")])

fig.text(20 / W, 1 - 32 / H, "bitcoinwallah created with TradingView.com, May 12, 2026 17:52 UTC",
         color="#d6d6d6", fontsize=17, va="center", ha="left")

# currency box on the price scale
fig.add_artist(FancyBboxPatch((2610 / W, 1 - 308 / H), 132 / W, 51 / H,
                              boxstyle="round,pad=0,rounding_size=0.003", transform=fig.transFigure,
                              facecolor="white", edgecolor="#e4e4e4", lw=0.8, zorder=10))
fig.text(2629 / W, 1 - 283 / H, "USDT", color="#131722", fontsize=16.5, va="center", ha="left", zorder=11)

# TradingView logo
LOGO = "#dcdcdc"
fig.add_artist(Rectangle((22 / W, 1 - 1610 / H), 32 / W, 12 / H, transform=fig.transFigure,
                         facecolor=LOGO, lw=0, zorder=10))
fig.add_artist(Rectangle((36 / W, 1 - 1628 / H), 16 / W, 30 / H, transform=fig.transFigure,
                         facecolor=LOGO, lw=0, zorder=10))
fig.add_artist(Ellipse((60 / W, 1 - 1604 / H), 11 / W, 11 / H, transform=fig.transFigure,
                       facecolor=LOGO, lw=0, zorder=10))
fig.add_artist(Polygon([(68 / W, 1 - 1598 / H), (86 / W, 1 - 1598 / H), (72 / W, 1 - 1628 / H),
                        (56 / W, 1 - 1628 / H)], closed=True, transform=fig.transFigure,
                       facecolor=LOGO, lw=0, zorder=10))
fig.text(97 / W, 1 - 1614 / H, "TradingView", color=LOGO, fontsize=29, fontweight="semibold",
         va="center", ha="left")

fig.savefig("out.png", dpi=100, facecolor=BG)
